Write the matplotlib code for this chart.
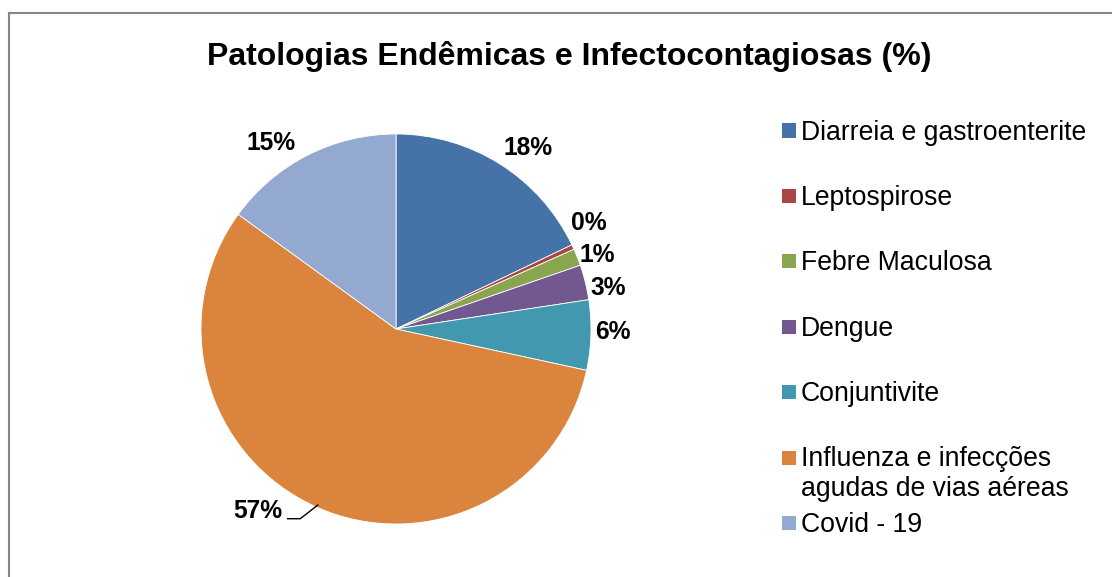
import numpy as np
import matplotlib.pyplot as plt
from matplotlib.patches import Rectangle
from matplotlib.lines import Line2D

plt.rcParams['font.family'] = ['Liberation Sans', 'DejaVu Sans']

categorias = ['Diarreia e gastroenterite', 'Leptospirose', 'Febre Maculosa', 'Dengue',
              'Conjuntivite', 'Influenza e infecções\nagudas de vias aéreas', 'Covid - 19']
valores = [17.9, 0.4, 1.4, 2.9, 5.8, 56.6, 15.0]
rotulos = ['18%', '0%', '1%', '3%', '6%', '57%', '15%']
cores = ['#4572A7', '#AA4643', '#89A54E', '#71588F', '#4198AF', '#DB843D', '#93A9CF']

# label placement (angle shift in degrees, radial distance) like Excel's best fit
ajuste_ang = [-4, 4, -1.5, -3, 1, -13, 7]
ajuste_r = [1.15, 1.13, 1.10, 1.11, 1.11, 1.17, 1.15]

W, H = 1112, 577
fig = plt.figure(figsize=(W / 100, H / 100), dpi=100)

# frame
fig.add_artist(Line2D([9 / W, 9 / W], [0, 1 - 13 / H], color='#868686', lw=1.5))
fig.add_artist(Line2D([9 / W, 1], [1 - 13 / H, 1 - 13 / H], color='#868686', lw=1.5))

fig.text(569 / W, 1 - 56 / H, 'Patologias Endêmicas e Infectocontagiosas (%)',
         ha='center', va='center', fontsize=23, fontweight='bold')

cx, cy, R = 396, 329, 195
ax = fig.add_axes([(cx - R) / W, (H - cy - R) / H, 2 * R / W, 2 * R / H])
wedges, _ = ax.pie(valores, colors=cores, startangle=90, counterclock=False, radius=1,
                   wedgeprops=dict(linewidth=0.6, edgecolor='white'))
ax.set_xlim(-1, 1)
ax.set_ylim(-1, 1)
ax.set_aspect('equal')
ax.axis('off')

for w, lab, da, r in zip(wedges, rotulos, ajuste_ang, ajuste_r):
    ang = np.deg2rad((w.theta1 + w.theta2) / 2 + da)
    x, y = r * np.cos(ang), r * np.sin(ang)
    ax.text(x, y, lab, ha='center', va='center', fontsize=17.7, fontweight='bold',
            clip_on=False)
    if lab == '57%':
        ax.plot([x + 0.15, x + 0.215, x + 0.305], [y - 0.04, y - 0.04, y + 0.03],
                color='black', lw=1, clip_on=False)

# legend
for i, (cat, c) in enumerate(zip(categorias, cores)):
    yc = 130.5 + i * 65.4
    fig.add_artist(Rectangle((782 / W, 1 - (yc + 7) / H), 14 / W, 14 / H,
                             facecolor=c, edgecolor='none'))
    fig.text(801 / W, 1 - (yc - 11) / H, cat, ha='left', va='top', fontsize=19.2,
             linespacing=1.15)

fig.savefig('out.png', dpi=100, facecolor='white')
